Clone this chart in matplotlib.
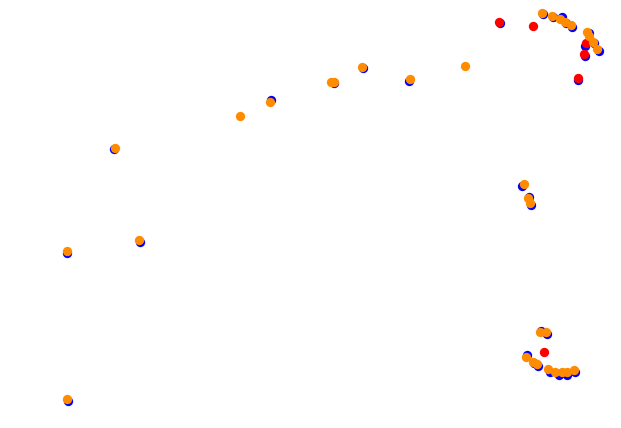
import matplotlib
matplotlib.use("Agg")
import matplotlib.pyplot as plt

# three position series (y grows downward)
blue_x = [67.7, 67.2, 139.6, 114, 271.2, 333.8, 362.8, 409, 499.7, 543,
          552.7, 562, 566, 572, 588.7, 593.8, 585, 598.8, 584.8, 577.7,
          522, 528.5, 530.5, 541, 546.5, 526.5, 534.3, 537.5, 549.5, 559,
          567, 575]
blue_y = [400.5, 252.5, 241.8, 149.3, 99.8, 83.3, 68.2, 80.8, 23.2, 13.8,
          17, 17, 23, 26.5, 33, 43, 45.5, 50.8, 55.8, 79.8,
          185.5, 196.5, 205, 330.5, 334, 355.3, 363.3, 366.3, 371.5, 374.5,
          374.7, 372]

red_x = [499, 533, 586, 583.5, 577.7, 544.3]
red_y = [21.7, 25.7, 43.3, 53.8, 77.7, 351.7]

orange_x = [67, 66.7, 139, 115.3, 240, 270, 331, 334.3, 361.7, 410,
            465, 542, 551.7, 560, 565, 571, 587, 589.2, 592.7, 597,
            524, 527.7, 530, 540, 545.7, 525.7, 533.3, 536.7, 548.3, 555,
            561.7, 566.7, 574]
orange_y = [399, 251, 240, 147.8, 115.7, 101.7, 81.7, 81.7, 66.7, 79.3,
            66, 12.5, 16, 18.8, 22, 24.8, 31.7, 36, 41.5, 49.3,
            184, 198.3, 203.3, 331.7, 332.3, 356.7, 361.7, 364.3, 369.3, 371.7,
            372.3, 372.3, 370]

fig = plt.figure(figsize=(6.21, 4.28), dpi=100)
ax = fig.add_axes([0, 0, 1, 1])

ax.scatter(blue_x, blue_y, s=45, color='blue', linewidths=0, zorder=1)
ax.scatter(red_x, red_y, s=45, color='red', linewidths=0, zorder=2)
ax.scatter(orange_x, orange_y, s=45, color='darkorange', linewidths=0, zorder=3)

ax.set_xlim(0, 621)
ax.set_ylim(428, 0)
ax.axis('off')
fig.savefig('out.png', dpi=100)
